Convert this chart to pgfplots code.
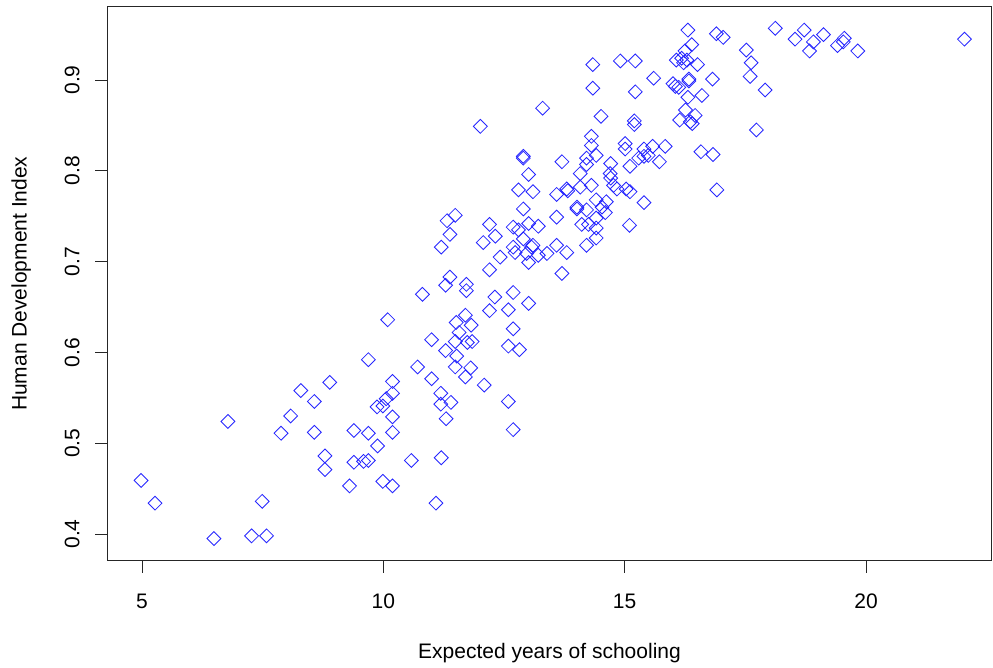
\documentclass[border=0pt]{standalone}
\usepackage{pgfplots}
\pgfplotsset{compat=1.18}
\usepackage{fontspec}
\setmainfont{Liberation Sans}
\begin{document}
\fontsize{10.5}{12.6}\selectfont
\begin{tikzpicture}
\useasboundingbox (0,0) rectangle (496.5pt,334pt);
\begin{axis}[
  at={(53.75pt,53.5pt)}, anchor=south west,
  scale only axis, width=442pt, height=277.25pt,
  xmin=4.285, xmax=22.6, ymin=0.3703, ymax=0.981,
  axis line style={black!85, line width=0.5pt},
  xtick={5,10,15,20}, ytick={0.4,0.5,0.6,0.7,0.8,0.9},
  xtick pos=bottom, ytick pos=left,
  tick align=outside, major tick length=6pt,
  tick style={black!85, line width=0.5pt},
  /pgf/number format/assume math mode=true,
  xticklabel style={anchor=base, inner sep=0pt, yshift=-17.85pt},
  yticklabel style={xshift=-8pt, rotate=90, anchor=base, inner sep=0pt},
  every axis x label/.style={at={(axis description cs:0.5,-0.1764)}, anchor=base, inner sep=0pt},
  every axis y label/.style={at={(axis description cs:-0.0916,0.5)}, rotate=90, anchor=base, inner sep=0pt},
  xlabel={Expected years of schooling},
  ylabel={Human Development Index},
  clip=false,
]
\addplot[only marks, mark=square, mark size=2.45pt, mark options={rotate=45, draw=blue!85, line width=0.42pt, fill=none}] table {
x y
4.98 0.459
5.27 0.434
6.49 0.395
6.78 0.524
7.27 0.398
7.49 0.436
7.58 0.398
7.88 0.511
8.08 0.530
8.29 0.558
8.57 0.546
8.57 0.512
8.89 0.567
8.79 0.486
8.79 0.471
9.30 0.453
9.39 0.514
9.39 0.479
9.59 0.480
9.69 0.481
9.69 0.511
9.69 0.592
9.88 0.497
9.87 0.540
9.99 0.541
10.09 0.636
10.06 0.549
10.19 0.568
10.19 0.555
10.19 0.529
10.19 0.512
9.99 0.458
10.19 0.453
10.81 0.664
11.29 0.674
11.72 0.675
11.72 0.668
12.31 0.661
12.69 0.666
13.01 0.654
12.20 0.646
12.59 0.647
12.69 0.626
12.59 0.607
12.82 0.603
11.00 0.614
11.51 0.633
11.70 0.641
11.82 0.630
11.57 0.622
11.49 0.612
11.74 0.611
11.84 0.612
11.29 0.602
11.52 0.596
11.49 0.584
11.81 0.583
11.70 0.573
10.71 0.584
11.00 0.571
12.09 0.564
11.19 0.555
11.19 0.543
11.40 0.545
11.30 0.527
12.59 0.546
12.69 0.515
10.58 0.481
11.20 0.484
11.09 0.434
11.38 0.683
13.30 0.869
12.01 0.849
12.90 0.816
12.90 0.814
13.70 0.810
13.01 0.796
12.80 0.779
13.10 0.777
13.59 0.774
13.80 0.780
13.82 0.778
14.08 0.797
12.90 0.758
13.59 0.749
12.69 0.738
12.20 0.741
11.49 0.751
11.32 0.745
11.38 0.730
11.20 0.716
12.32 0.728
12.07 0.721
12.80 0.735
13.01 0.742
13.21 0.739
12.90 0.725
13.10 0.718
13.07 0.716
12.69 0.716
12.73 0.710
12.42 0.705
12.97 0.709
13.01 0.699
13.21 0.707
13.39 0.709
13.59 0.718
13.80 0.710
13.70 0.687
12.20 0.691
14.21 0.718
14.41 0.726
14.11 0.741
14.25 0.741
14.41 0.737
14.51 0.860
15.20 0.855
15.20 0.851
16.14 0.856
16.26 0.867
16.36 0.854
16.46 0.861
16.40 0.852
16.58 0.821
14.31 0.838
14.31 0.828
15.01 0.830
15.01 0.824
15.40 0.824
15.58 0.827
15.84 0.827
15.29 0.814
15.40 0.816
15.49 0.817
15.72 0.810
15.11 0.805
14.71 0.808
14.21 0.814
14.41 0.817
14.21 0.807
14.70 0.797
14.71 0.792
14.77 0.784
14.84 0.780
15.03 0.780
15.11 0.777
15.40 0.765
14.31 0.784
14.08 0.782
14.41 0.768
14.53 0.760
14.62 0.766
14.60 0.754
14.01 0.760
14.01 0.758
14.21 0.757
14.41 0.748
15.10 0.740
16.31 0.955
18.12 0.957
16.90 0.951
17.04 0.947
16.39 0.939
16.25 0.932
16.18 0.924
16.07 0.922
16.29 0.922
16.51 0.917
16.22 0.919
17.52 0.933
17.62 0.919
17.60 0.904
17.91 0.889
17.73 0.845
14.91 0.921
15.22 0.921
14.34 0.917
15.60 0.902
16.33 0.901
16.33 0.899
16.05 0.893
16.12 0.892
16.00 0.896
16.82 0.901
16.60 0.883
16.31 0.881
15.22 0.887
14.34 0.891
16.83 0.818
16.91 0.779
18.72 0.955
18.53 0.945
19.12 0.950
18.91 0.942
18.83 0.932
19.41 0.938
19.55 0.946
19.53 0.942
19.83 0.932
22.04 0.945
};
\end{axis}
\end{tikzpicture}
\end{document}
